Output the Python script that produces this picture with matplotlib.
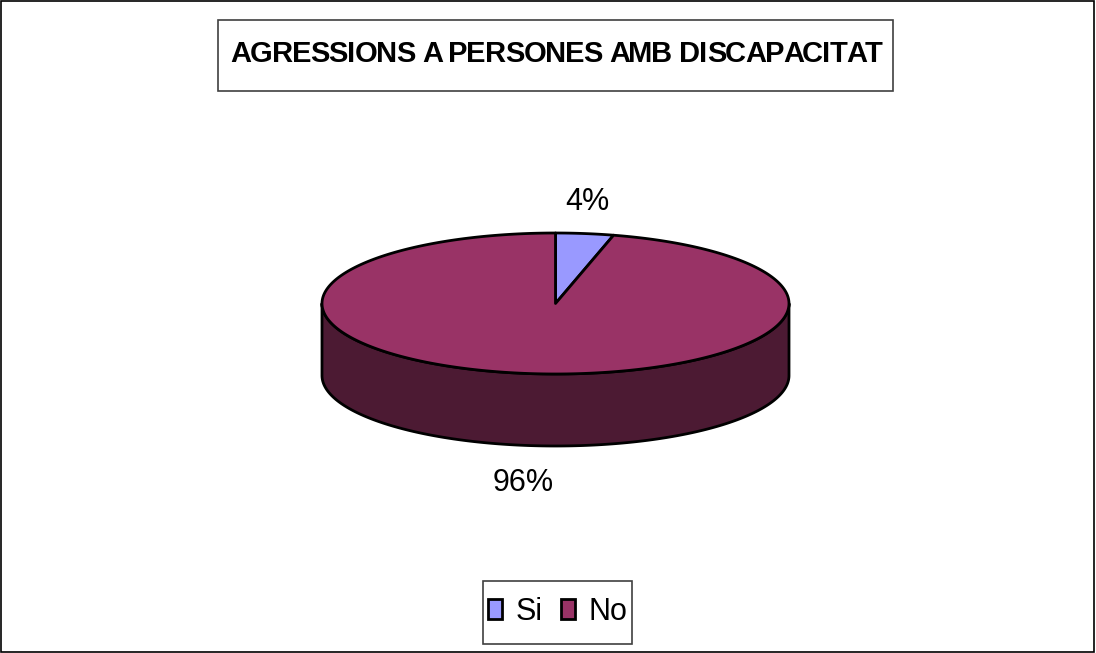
import numpy as np
import matplotlib.pyplot as plt
from matplotlib.patches import Polygon, Rectangle, Patch
from matplotlib.font_manager import FontProperties
from matplotlib.textpath import TextToPath

# dades
categories = ['Si', 'No']
values = [4, 96]
colors = ['#9999FF', '#993366']
side_colors = ['#4C4C80', '#4C1A33']
title = 'AGRESSIONS A PERSONES AMB DISCAPACITAT'

plt.rcParams['font.family'] = ['Liberation Sans', 'DejaVu Sans']
DPI = 100

fig = plt.figure(figsize=(10.96, 6.53), dpi=DPI)
ax = fig.add_axes([0, 0, 1, 1])
ax.set_xlim(0, 1096)
ax.set_ylim(653, 0)
ax.axis('off')

# pastís 3D (el·lipse + gruix)
cx, cy, rx, ry, depth = 555.5, 303.5, 233.5, 70.5, 72


def pt(theta, dz=0):
    t = np.radians(theta)
    return cx + rx * np.sin(t), cy - ry * np.cos(t) + dz


total = sum(values)
angles = np.cumsum([0] + [v / total * 360 for v in values])

# costats visibles (part davantera: 90..270)
for i in range(len(values)):
    a0, a1 = max(angles[i], 90), min(angles[i + 1], 270)
    if a1 <= a0:
        continue
    th = np.linspace(a0, a1, 200)
    top = [pt(t) for t in th]
    bot = [pt(t, depth) for t in th[::-1]]
    ax.add_patch(Polygon(top + bot, closed=True, fc=side_colors[i],
                         ec='black', lw=2, joinstyle='round', zorder=2))

# cares superiors
for i in range(len(values)):
    th = np.linspace(angles[i], angles[i + 1], 300)
    verts = [(cx, cy)] + [pt(t) for t in th]
    ax.add_patch(Polygon(verts, closed=True, fc=colors[i], ec='black',
                         lw=2, joinstyle='round', zorder=3))

# etiquetes de percentatge
for i, v in enumerate(values):
    mid = (angles[i] + angles[i + 1]) / 2
    t = np.radians(mid)
    x = cx + rx * np.sin(t) * 1.1
    y = cy - ry * np.cos(t) * 1.45
    if np.cos(t) < 0:
        y += depth + 6
    ax.text(x, y, f'{v / total * 100:.0f}%', ha='center', va='center',
            fontsize=22, zorder=4)

# títol (lletres juntes, com l'original)
ax.add_patch(Rectangle((218, 20), 675, 71, fc='white', ec='#404040', lw=1.2))
prop = FontProperties(family='Liberation Sans', weight='bold', size=21)
ttp = TextToPath()


def width_px(s):
    if not s:
        return 0.0
    w, _, _ = ttp.get_text_width_height_descent(s, prop, ismath=False)
    return w * DPI / 72


x0, x1 = 230, 882
k = (x1 - x0 - width_px(title[-1])) / width_px(title[:-1])
for i, ch in enumerate(title):
    if ch == ' ':
        continue
    ax.text(x0 + k * width_px(title[:i]), 62, ch, ha='left', va='baseline',
            fontproperties=prop)

# llegenda
ax.add_patch(Rectangle((483, 581), 149, 63, fc='white', ec='#404040', lw=1.2))
handles = [Patch(fc=c, ec='black', lw=2) for c in colors]
leg = fig.legend(handles, categories, loc='center', ncol=2,
                 bbox_to_anchor=(558 / 1096, 1 - 612 / 653), fontsize=22,
                 frameon=False, handletextpad=0.45, columnspacing=0.6,
                 handlelength=0.45, handleheight=0.62, borderpad=0.2)

# vora exterior
fig.patches.append(Rectangle((0.001, 0.002), 0.997, 0.996, transform=fig.transFigure,
                             fill=False, ec='black', lw=1.2))

fig.savefig('out.png', dpi=DPI)
